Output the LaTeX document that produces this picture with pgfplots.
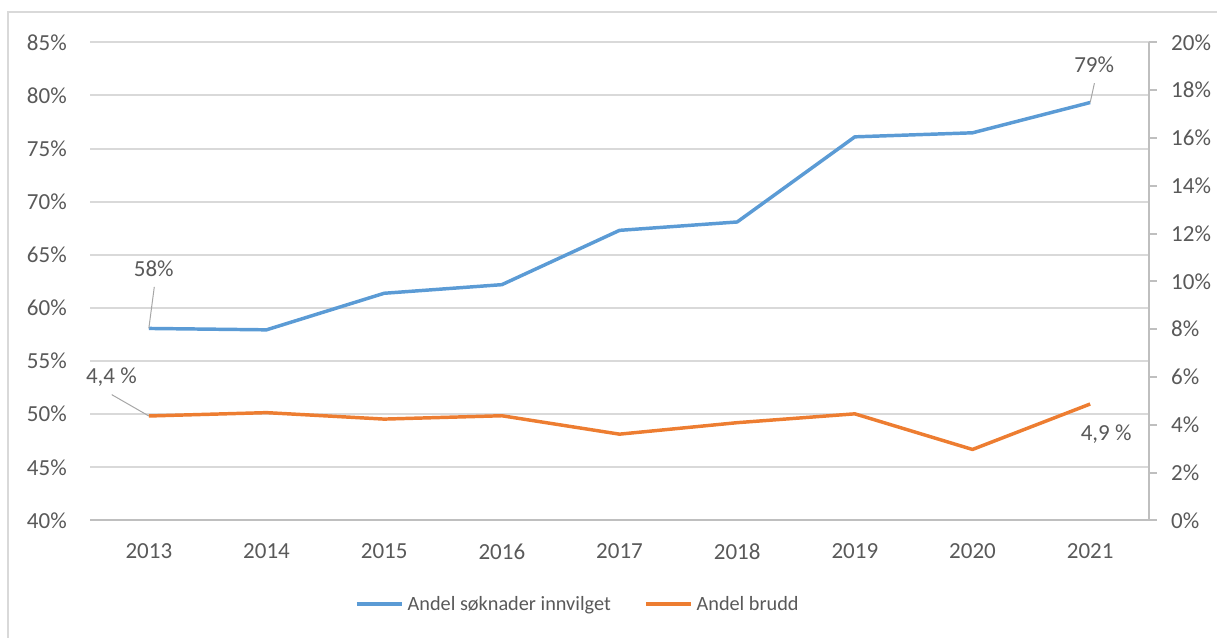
\documentclass[border=0pt]{standalone}
\usepackage{pgfplots}
\pgfplotsset{compat=1.18}
\usepackage{fontspec}
\setmainfont{Carlito}

\definecolor{blueline}{HTML}{5B9BD5}
\definecolor{orangeline}{HTML}{ED7D31}
\definecolor{gridgray}{HTML}{D9D9D9}
\definecolor{axisgray}{HTML}{BFBFBF}
\definecolor{txtgray}{HTML}{595959}
\definecolor{leadgray}{HTML}{A6A6A6}

% 1 px of the reference = 0.75pt
\pgfplotsset{
  base/.style={
    at={(67.5pt,87.4pt)}, anchor=south west,
    scale only axis, width=794.25pt, height=358.65pt,
    xmin=2012.5, xmax=2021.5,
    xtick={2013,2014,2015,2016,2017,2018,2019,2020,2021},
    /pgf/number format/assume math mode=true,
    tick label style={font=\fontsize{17.25}{20}\selectfont, text=txtgray},
    clip=false,
  },
}
\tikzset{lbl/.style={font=\fontsize{17.25}{20}\selectfont, text=txtgray, inner sep=0pt}}

\begin{document}
\begin{tikzpicture}
\begin{axis}[base,
  axis x line*=bottom, axis y line*=left,
  ymin=40, ymax=85, ytick={40,45,...,85},
  yticklabel={\pgfmathprintnumber{\tick}\%},
  xticklabels={2013,2014,2015,2016,2017,2018,2019,2020,2021},
  ymajorgrids, grid style={gridgray, line width=1.5pt},
  y axis line style={draw=none},
  x axis line style={axisgray, line width=1.5pt},
  major tick length=0pt,
  yticklabel style={anchor=east, inner sep=0pt, xshift=-17.25pt},
  xticklabel style={anchor=north, inner sep=0pt, yshift=-17.4pt},
]
\addplot[blueline, line width=2.6pt, line join=round] coordinates {
  (2013,58.07) (2014,57.94) (2015,61.38) (2016,62.19) (2017,67.3)
  (2018,68.09) (2019,76.1) (2020,76.48) (2021,79.33)
};
\draw[leadgray, line width=0.75pt] (axis cs:2013,58.07) -- ([xshift=4.1pt,yshift=31.2pt]axis cs:2013,58.07);
\node[lbl] at ([xshift=3.7pt,yshift=44.5pt]axis cs:2013,58.07) {58\%};
\draw[leadgray, line width=0.75pt] (axis cs:2021,79.33) -- ([xshift=3.2pt,yshift=14.5pt]axis cs:2021,79.33);
\node[lbl] at ([xshift=3pt,yshift=28pt]axis cs:2021,79.33) {79\%};
\end{axis}

\begin{axis}[base,
  axis x line=none, axis y line*=right,
  ymin=0, ymax=20, ytick={0,2,...,20},
  yticklabel={\pgfmathprintnumber{\tick}\%},
  y axis line style={axisgray, line width=1.5pt},
  ytick style={axisgray, line width=1.5pt},
  tick align=outside, major tick length=6pt,
  yticklabel style={anchor=west, inner sep=0pt, xshift=10.5pt},
  legend style={
    at={(0.2502,-0.1746)}, anchor=west, draw=none, fill=none,
    inner sep=0pt, nodes={inner sep=0pt},
    font=\fontsize{15.2}{18}\selectfont, text=txtgray,
    legend columns=2,
    /tikz/every odd column/.append style={column sep=3pt},
    /tikz/every even column/.append style={column sep=25pt},
  },
  legend image code/.code={\draw[#1] (0pt,0pt) -- (33.75pt,0pt);},
]
\addlegendimage{blueline, line width=2.6pt}
\addlegendentry{Andel søknader innvilget}
\addplot[orangeline, line width=2.6pt, line join=round] coordinates {
  (2013,4.37) (2014,4.51) (2015,4.24) (2016,4.38) (2017,3.61)
  (2018,4.09) (2019,4.46) (2020,2.97) (2021,4.87)
};
\addlegendentry{Andel brudd}
\draw[leadgray, line width=0.75pt] (axis cs:2013,4.37) -- ([xshift=-27.8pt,yshift=16pt]axis cs:2013,4.37);
\node[lbl] at ([xshift=-28.1pt,yshift=29pt]axis cs:2013,4.37) {4,4 \%};
\node[lbl] at ([xshift=12pt,yshift=-22.8pt]axis cs:2021,4.87) {4,9 \%};
\end{axis}

\draw[gridgray, line width=1.5pt] (6pt,-10pt) -- (6pt,468.75pt) -- (930pt,468.75pt);
\pgfresetboundingbox
\useasboundingbox (0pt,0pt) rectangle (912.75pt,477.75pt);
\end{tikzpicture}
\end{document}
